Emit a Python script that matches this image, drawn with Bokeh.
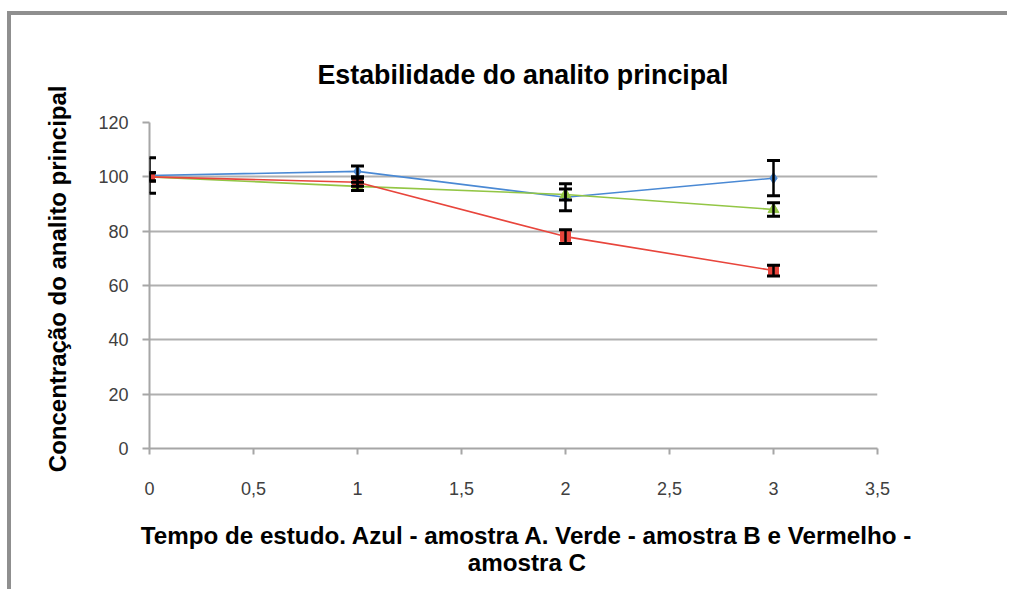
from bokeh.plotting import figure
from bokeh.models import ColumnDataSource, Whisker, TeeHead, FixedTicker
from bokeh.embed import file_html
from bokeh.resources import INLINE

# ---- data ----
tempo = [0, 1, 2, 3]
amostra_a = [100.5, 102.0, 92.5, 99.5]   # azul
erro_a = [6.5, 2.0, 5.0, 6.5]
amostra_b = [100.0, 96.5, 93.5, 88.0]    # verde
erro_b = [1.5, 1.5, 2.0, 2.5]
amostra_c = [100.0, 98.0, 78.0, 65.5]    # vermelho
erro_c = [1.5, 1.5, 2.5, 2.0]

x_ticks = [0, 0.5, 1, 1.5, 2, 2.5, 3, 3.5]
x_tick_labels = ["0", "0,5", "1", "1,5", "2", "2,5", "3", "3,5"]
y_ticks = [0, 20, 40, 60, 80, 100, 120]

title_text = "Estabilidade do analito principal"
y_label = "Concentração do analito principal"
x_label_lines = ["Tempo de estudo. Azul - amostra A. Verde - amostra B e Vermelho -",
                 "amostra C"]

FONT = "Liberation Sans"
NB = "\u00a0"

p = figure(width=1000, height=578, x_range=(0, 3.5), y_range=(0, 120),
           output_backend="svg", toolbar_location=None,
           min_border_left=138, min_border_right=134,
           min_border_top=107, min_border_bottom=145,
           margin=(11, 0, 0, 7),
           styles={"border-left": "4px solid #8f8f8f", "border-top": "4px solid #8f8f8f"})

p.title.text = title_text
p.title.align = "left"
p.title.offset = 168
p.title.text_font = FONT
p.title.text_font_size = "26.8px"
p.title.text_font_style = "bold"
p.title.text_color = "#000000"
p.title.standoff = 66

p.outline_line_color = None
p.background_fill_color = "white"
p.border_fill_color = "white"

p.xgrid.grid_line_color = None
p.ygrid.grid_line_color = "#b0b0b0"
p.ygrid.grid_line_width = 2

p.xaxis.ticker = FixedTicker(ticks=x_ticks)
p.xaxis.major_label_overrides = {t: l for t, l in zip(x_ticks, x_tick_labels)}
p.yaxis.ticker = FixedTicker(ticks=y_ticks)

for ax in (p.xaxis[0], p.yaxis[0]):
    ax.axis_line_color = "#a6a6a6"
    ax.axis_line_width = 2
    ax.major_tick_line_color = "#a6a6a6"
    ax.major_tick_line_width = 2
    ax.major_tick_in = 0
    ax.minor_tick_line_color = None
    ax.major_label_text_font = FONT
    ax.major_label_text_font_size = "18px"
    ax.major_label_text_color = "#404040"
    ax.axis_label_text_font = FONT
    ax.axis_label_text_font_style = "bold"
    ax.axis_label_text_color = "#000000"

p.xaxis.major_tick_out = 6
p.xaxis.major_label_standoff = 27
# leading no-break spaces nudge the centred label slightly to the right
p.xaxis.axis_label = "\n".join(NB * 4 + line for line in x_label_lines)
p.xaxis.axis_label_text_font_size = "24.2px"
p.xaxis.axis_label_text_line_height = 1.0
p.xaxis.axis_label_standoff = 24

p.yaxis.major_tick_out = 7
p.yaxis.major_label_standoff = 14
p.yaxis.axis_label = NB * 2 + y_label
p.yaxis.axis_label_text_font_size = "24px"
p.yaxis.axis_label_standoff = 24

series = [
    (amostra_a, erro_a, "#4a89d4", "diamond", 11),
    (amostra_b, erro_b, "#93c645", "triangle", 11),
    (amostra_c, erro_c, "#e8453c", "square", 10),
]

for vals, errs, color, marker, size in series:
    src = ColumnDataSource(dict(x=tempo, y=vals))
    p.line("x", "y", source=src, line_color=color, line_width=1.6)
    p.scatter("x", "y", source=src, marker=marker, size=size,
              fill_color=color, line_color=color)

for vals, errs, color, marker, size in series:
    src = ColumnDataSource(dict(
        x=tempo,
        upper=[v + e for v, e in zip(vals, errs)],
        lower=[v - e for v, e in zip(vals, errs)],
    ))
    w = Whisker(source=src, base="x", upper="upper", lower="lower",
                line_color="#000000", line_width=2.5, level="overlay",
                upper_head=TeeHead(size=13, line_width=3, line_color="#000000"),
                lower_head=TeeHead(size=13, line_width=3, line_color="#000000"))
    p.add_layout(w)

open("out.html", "w").write(file_html(p, INLINE))
